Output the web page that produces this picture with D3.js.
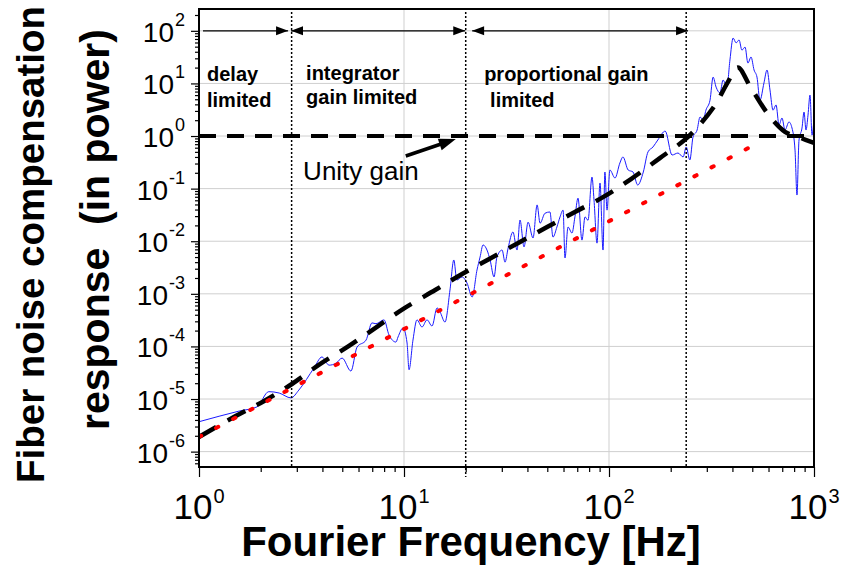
<!DOCTYPE html>
<html>
<head>
<meta charset="utf-8">
<script src="https://cdn.jsdelivr.net/npm/d3@7"></script>
<style>
  body { margin: 0; background: #fff; }
  text { font-family: Arial, "Liberation Sans", sans-serif; }
</style>
</head>
<body>
<svg id="chart"></svg>
<script>
const width = 843;
const height = 582;

// measured loop response (Fourier frequency in Hz, response in power)
const traceFreq = [1, 1.57, 1.92, 2.19, 2.46, 2.81, 3.07, 3.64, 3.98, 4.31, 4.66, 4.99, 5.51, 5.9, 6.53, 6.98, 7.3, 7.99, 8.45, 9.14,
  9.35, 9.89, 10.35, 10.58, 11.06, 11.57, 12.24, 12.95, 13.7, 14.5, 15.0, 15.85, 16.76, 17.5, 18.1, 19.2, 20.3, 21.5, 22.7, 23.5,
  24.3, 25.4, 26.3, 27.5, 28.4, 30.1, 31.1, 32.2, 34.0, 35.6, 36.8, 38.5, 40.3, 42.6, 44.6, 46.1, 48.7, 51.5, 53.3, 55.7,
  57.7, 59.7, 61.0, 63.1, 66.0, 68.2, 70.6, 73.8, 76.4, 79.0, 82.6, 84.5, 87.4, 90.4, 93.5, 95.5, 97.8, 101, 107, 113,
  117, 124, 131, 138, 147, 155, 164, 173, 188, 203, 217, 230, 238, 248, 257, 269, 278, 288, 297, 311,
  322, 333, 348, 360, 376, 389, 403, 417, 431, 445, 461, 476, 493, 510, 527, 545, 570, 590, 610, 631,
  653, 675, 698, 722, 755, 781, 808, 826, 845, 874, 894, 914, 935, 956, 978, 1000];
const traceResp = [3.7e-6, 5.9e-6, 7.1e-6, 1.38e-5, 1.3e-5, 1.05e-5, 1.48e-5, 3.9e-5, 6.3e-5, 4.4e-5, 4.8e-5, 6.0e-5, 3.4e-5, 9.7e-5, 1.32e-4, 2.8e-4, 2.7e-4, 3.2e-4, 1.65e-4, 1.21e-4,
  1.51e-4, 2.24e-4, 1.16e-4, 3.6e-5, 1.32e-4, 3.2e-4, 2.34e-4, 3.2e-4, 2.44e-4, 5.4e-4, 4.5e-4, 2.9e-4, 1.18e-3, 4.4e-3, 1.83e-3, 2.09e-3, 1.6e-3, 8.7e-4, 2.83e-3, 5.0e-3,
  8.5e-3, 6.8e-3, 4.4e-3, 2.09e-3, 5.0e-3, 6.8e-3, 4.0e-3, 7.4e-3, 1.5e-2, 6.8e-3, 2.53e-2, 7.8e-3, 2.3e-2, 1.15e-2, 4.9e-2, 2.2e-2, 3.4e-2, 3.6e-2, 1.2e-2, 1.86e-2,
  2.9e-2, 3.9e-2, 4.8e-3, 1.86e-2, 1.43e-2, 2.9e-2, 6.6e-2, 1.05e-2, 2.9e-2, 2.5e-2, 0.166, 6.1e-2, 9.2e-3, 0.128, 6.8e-3, 0.207, 3.9e-2, 0.226, 0.159, 0.307,
  0.40, 0.226, 0.207, 0.117, 0.207, 0.50, 0.62, 0.84, 1.24, 0.435, 0.475, 0.40, 0.62, 0.35, 0.96, 1.3, 2.3, 2.0, 3.1, 4.8,
  13.2, 8.5, 6.6, 11.6, 8.5, 27.9, 73, 59, 67, 43, 49, 24.4, 31.8, 18, 13.2, 4.8, 10.2, 18, 7.5, 3.1,
  3.9, 1.62, 2.2, 1.3, 1.85, 1.42, 0.54, 0.0755, 0.84, 1.42, 2.86, 1.3, 2.5, 6.0, 1.04, 2.2];

// modelled response (black dashed)
const fitFreq = [1, 1.51, 2.08, 2.84, 3.89, 5.39, 7.47, 10.1, 14.2, 19.2, 26.6, 36.8, 49.9, 68.2, 93.5, 128, 177, 243, 325, 380, 425, 487, 597, 722, 855, 1000];
const fitResp = [1.9e-6, 4.75e-6, 9.2e-6, 1.93e-5, 4.6e-5, 1.02e-4, 2.44e-4, 5.4e-4, 1.18e-3, 2.38e-3, 4.8e-3, 9.7e-3, 1.86e-2, 3.6e-2, 6.9e-2, 0.152, 0.38, 0.96, 3.6, 10.6, 20, 8.9, 2.6, 1.2, 0.93, 0.74];

// pure integrator slope (red dotted)
const slopeFreq = [1, 535];
const slopeResp = [1.9e-6, 0.746];

const unityGain = 1;
const regionBounds = [2.83, 20, 238];

const xMajor = [1, 10, 100, 1000];
const xExp = ["0", "1", "2", "3"];
const yMajor = [1e-6, 1e-5, 1e-4, 1e-3, 1e-2, 1e-1, 1, 10, 100];
const yExp = ["-6", "-5", "-4", "-3", "-2", "-1", "0", "1", "2"];

const plotLeft = 199, plotRight = 814, plotTop = 9, plotBottom = 467;

const svg = d3.select("#chart")
    .attr("width", width)
    .attr("height", height);

svg.append("rect").attr("width", width).attr("height", height).attr("fill", "#fff");

const x = d3.scaleLog().domain([1, 1000]).range([plotLeft, plotRight]);
const y = d3.scaleLog().domain([5.1e-7, 260]).range([plotBottom, plotTop]);

svg.append("clipPath").attr("id", "plot")
  .append("rect")
    .attr("x", plotLeft).attr("y", plotTop)
    .attr("width", plotRight - plotLeft).attr("height", plotBottom - plotTop);

// grid
const grid = svg.append("g").attr("stroke", "#cfcfcf").attr("stroke-width", 1);
grid.selectAll(".gx").data(xMajor.slice(1, -1)).join("line")
    .attr("x1", d => x(d)).attr("x2", d => x(d))
    .attr("y1", plotTop).attr("y2", plotBottom);
grid.selectAll(".gy").data(yMajor).join("line")
    .attr("x1", plotLeft).attr("x2", plotRight)
    .attr("y1", d => y(d)).attr("y2", d => y(d));

// axes ticks
const xMinor = x.ticks().filter(d => !xMajor.includes(d));
const yMinor = y.ticks().filter(d => !yMajor.some(m => Math.abs(m - d) / m < 1e-6));

function styleAxis(g) {
  g.select(".domain").remove();
  g.selectAll("line").attr("stroke", "#000").attr("stroke-width", 1.2);
}

svg.append("g").attr("transform", `translate(0,${plotBottom})`)
    .call(d3.axisBottom(x).tickValues(xMinor).tickSize(5).tickFormat(""))
    .call(styleAxis);
svg.append("g").attr("transform", `translate(0,${plotBottom})`)
    .call(d3.axisBottom(x).tickValues(xMajor).tickSize(10).tickFormat(""))
    .call(styleAxis);
svg.append("g").attr("transform", `translate(${plotLeft},0)`)
    .call(d3.axisLeft(y).tickValues(yMinor).tickSize(4).tickFormat(""))
    .call(styleAxis);
svg.append("g").attr("transform", `translate(${plotLeft},0)`)
    .call(d3.axisLeft(y).tickValues(yMajor).tickSize(8).tickFormat(""))
    .call(styleAxis);

// tick labels with superscripts
svg.append("g").selectAll("text").data(xMajor).join("text")
    .attr("x", d => x(d))
    .attr("y", 519)
    .attr("text-anchor", "middle")
    .attr("font-size", 35)
    .each(function(d, i) {
      const t = d3.select(this);
      t.append("tspan").text("10");
      t.append("tspan").attr("dx", 1).attr("dy", -16).attr("font-size", 20).text(xExp[i]);
    });

svg.append("g").selectAll("text").data(yMajor).join("text")
    .attr("x", 185)
    .attr("y", d => y(d) + 11)
    .attr("text-anchor", "end")
    .attr("font-size", 28)
    .each(function(d, i) {
      const t = d3.select(this);
      t.append("tspan").text("10");
      t.append("tspan").attr("dx", 1).attr("dy", -16).attr("font-size", 18).text(yExp[i]);
    });

// data lines
const plot = svg.append("g").attr("clip-path", "url(#plot)");

const line = d3.line().x(d => x(d[0])).y(d => y(d[1]));

plot.append("path")
    .datum(d3.zip(traceFreq, traceResp))
    .attr("fill", "none")
    .attr("stroke", "#1a1aff")
    .attr("stroke-width", 1)
    .attr("d", line.curve(d3.curveMonotoneX));

plot.append("path")
    .datum(d3.zip(fitFreq, fitResp))
    .attr("fill", "none")
    .attr("stroke", "#000")
    .attr("stroke-width", 4.5)
    .attr("stroke-dasharray", "20,13")
    .attr("d", line.curve(d3.curveCatmullRom));

plot.append("path")
    .datum(d3.zip(slopeFreq, slopeResp))
    .attr("fill", "none")
    .attr("stroke", "#ff0000")
    .attr("stroke-width", 4)
    .attr("stroke-linecap", "round")
    .attr("stroke-dasharray", "2.5,16.8")
    .attr("d", line.curve(d3.curveLinear));

plot.append("line")
    .attr("x1", x(1)).attr("x2", x(1000))
    .attr("y1", y(unityGain)).attr("y2", y(unityGain))
    .attr("stroke", "#000")
    .attr("stroke-width", 4)
    .attr("stroke-dasharray", "17,11");

// region boundaries
svg.append("g").selectAll("line").data(regionBounds).join("line")
    .attr("x1", d => x(d)).attr("x2", d => x(d))
    .attr("y1", 12)
    .attr("y2", (d, i) => i === 1 ? plotBottom + 10 : plotBottom)
    .attr("stroke", "#000")
    .attr("stroke-width", 1.5)
    .attr("stroke-dasharray", "2,2");

// frame
svg.append("rect")
    .attr("x", plotLeft).attr("y", plotTop)
    .attr("width", plotRight - plotLeft).attr("height", plotBottom - plotTop)
    .attr("fill", "none")
    .attr("stroke", "#000")
    .attr("stroke-width", 2);

// arrows
function head(g, x0, y0, x1, y1, len, hw) {
  const a = Math.atan2(y1 - y0, x1 - x0);
  const bx = x1 - len * Math.cos(a), by = y1 - len * Math.sin(a);
  const px = -Math.sin(a) * hw, py = Math.cos(a) * hw;
  g.append("path")
      .attr("d", `M${x1},${y1}L${bx + px},${by + py}L${bx - px},${by - py}Z`)
      .attr("fill", "#000");
}

const spans = [[1.046, 2.72, false], [2.81, 19.9, true], [21.5, 243, true]];
const arrows = svg.append("g");
spans.forEach(([a, b, both]) => {
  const yy = y(100), xa = x(a), xb = x(b);
  arrows.append("line").attr("x1", xa).attr("x2", xb).attr("y1", yy).attr("y2", yy)
      .attr("stroke", "#000").attr("stroke-width", 1.2);
  head(arrows, xa, yy, xb, yy, 12, 4.5);
  if (both) head(arrows, xb, yy, xa, yy, 12, 4.5);
});

// unity gain pointer
const ux0 = x(10.2), uy0 = y(0.417), ux1 = x(17.9), uy1 = y(0.877);
arrows.append("line")
    .attr("x1", ux0).attr("y1", uy0)
    .attr("x2", ux0 + (ux1 - ux0) * 0.75).attr("y2", uy0 + (uy1 - uy0) * 0.75)
    .attr("stroke", "#000").attr("stroke-width", 3.5);
head(arrows, ux0, uy0, ux1, uy1, 17, 6);

svg.append("text")
    .attr("x", x(3.22)).attr("y", 180)
    .attr("font-size", 26)
    .text("Unity gain");

// region labels
const labels = [
  [1.094, 81, "delay"], [1.094, 107, "limited"],
  [3.33, 80, "integrator"], [3.33, 104, "gain limited"],
  [24.6, 81, "proportional gain"], [26.3, 107, "limited"]
];
svg.append("g").selectAll("text").data(labels).join("text")
    .attr("x", d => x(d[0]))
    .attr("y", d => d[1])
    .attr("font-size", 20)
    .attr("font-weight", "bold")
    .text(d => d[2]);

// axis titles
svg.append("text")
    .attr("x", 471).attr("y", 556)
    .attr("text-anchor", "middle")
    .attr("font-size", 42)
    .attr("font-weight", "bold")
    .text("Fourier Frequency [Hz]");

svg.append("text")
    .attr("transform", "translate(44,483) rotate(-90)")
    .attr("font-size", 38.5)
    .attr("font-weight", "bold")
    .text("Fiber noise compensation");

svg.append("text")
    .attr("transform", "translate(109,430) rotate(-90)")
    .attr("font-size", 41)
    .attr("font-weight", "bold")
    .style("white-space", "pre")
    .text("response  (in power)");
</script>
</body>
</html>
